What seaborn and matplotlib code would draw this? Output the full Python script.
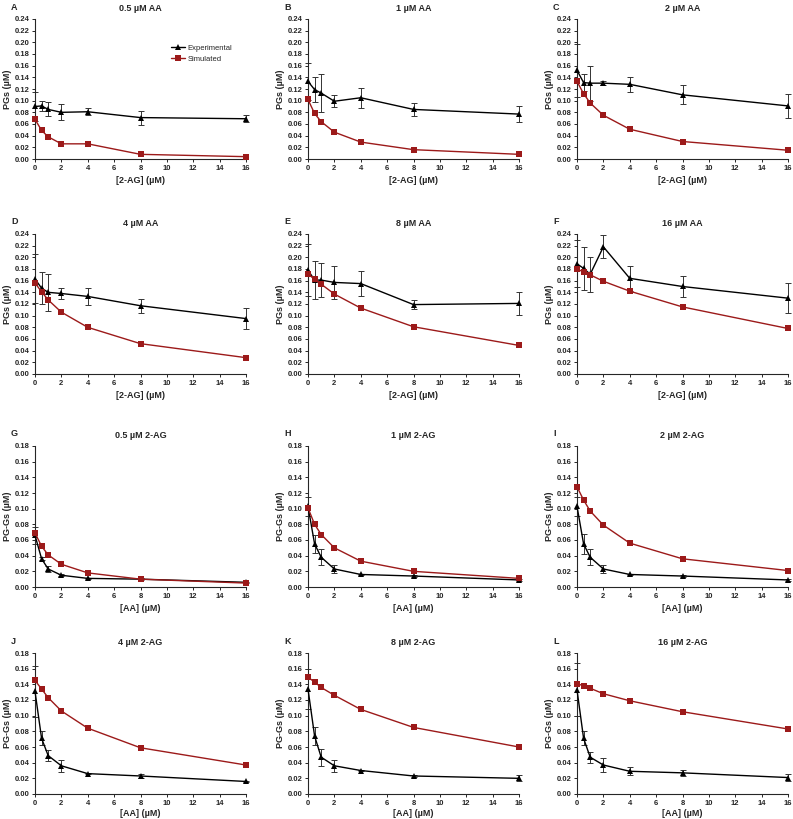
import numpy as np
import seaborn as sns
import matplotlib.pyplot as plt

# concentrations on the x axis (µM)
conc = [0, 0.5, 1, 2, 4, 8, 16]

# top two rows: PGs vs [2-AG] at fixed AA
A_exp = [0.090, 0.091, 0.085, 0.080, 0.081, 0.071, 0.069]
A_err = [0.025, 0.008, 0.012, 0.014, 0.006, 0.012, 0.006]
A_sim = [0.068, 0.049, 0.038, 0.026, 0.026, 0.008, 0.004]

B_exp = [0.133, 0.119, 0.113, 0.099, 0.105, 0.085, 0.077]
B_err = [0.032, 0.022, 0.032, 0.010, 0.017, 0.011, 0.013]
B_sim = [0.102, 0.078, 0.064, 0.046, 0.029, 0.016, 0.008]

C_exp = [0.152, 0.131, 0.130, 0.130, 0.128, 0.110, 0.091]
C_err = [0.045, 0.015, 0.030, 0.004, 0.013, 0.016, 0.020]
C_sim = [0.133, 0.112, 0.096, 0.075, 0.051, 0.030, 0.015]

D_exp = [0.163, 0.147, 0.140, 0.138, 0.133, 0.117, 0.095]
D_err = [0.042, 0.027, 0.032, 0.009, 0.015, 0.012, 0.018]
D_sim = [0.156, 0.141, 0.127, 0.106, 0.080, 0.052, 0.028]

E_exp = [0.178, 0.161, 0.161, 0.157, 0.155, 0.119, 0.121]
E_err = [0.045, 0.032, 0.029, 0.028, 0.021, 0.008, 0.020]
E_sim = [0.172, 0.162, 0.154, 0.137, 0.113, 0.081, 0.049]

F_exp = [0.189, 0.181, 0.171, 0.218, 0.164, 0.150, 0.130]
F_err = [0.040, 0.037, 0.030, 0.020, 0.021, 0.018, 0.026]
F_sim = [0.180, 0.175, 0.170, 0.159, 0.142, 0.115, 0.078]

# bottom two rows: PG-Gs vs [AA] at fixed 2-AG
G_exp = [0.066, 0.036, 0.023, 0.015, 0.011, 0.010, 0.006]
G_err = [0.011, 0.002, 0.004, 0.001, 0.001, 0.001, 0.001]
G_sim = [0.069, 0.052, 0.041, 0.029, 0.018, 0.010, 0.005]

H_exp = [0.103, 0.055, 0.038, 0.023, 0.016, 0.014, 0.009]
H_err = [0.012, 0.012, 0.010, 0.005, 0.001, 0.001, 0.001]
H_sim = [0.101, 0.080, 0.067, 0.050, 0.033, 0.020, 0.011]

I_exp = [0.103, 0.055, 0.038, 0.023, 0.016, 0.014, 0.009]
I_err = [0.012, 0.013, 0.010, 0.005, 0.001, 0.001, 0.001]
I_sim = [0.128, 0.111, 0.097, 0.079, 0.056, 0.036, 0.021]

J_exp = [0.131, 0.071, 0.049, 0.036, 0.026, 0.023, 0.016]
J_err = [0.033, 0.009, 0.007, 0.008, 0.001, 0.003, 0.001]
J_sim = [0.145, 0.134, 0.123, 0.106, 0.084, 0.059, 0.037]

K_exp = [0.134, 0.074, 0.047, 0.036, 0.030, 0.023, 0.020]
K_err = [0.025, 0.012, 0.011, 0.008, 0.001, 0.001, 0.004]
K_sim = [0.149, 0.143, 0.136, 0.126, 0.108, 0.085, 0.060]

L_exp = [0.133, 0.071, 0.047, 0.037, 0.029, 0.027, 0.021]
L_err = [0.034, 0.009, 0.007, 0.009, 0.005, 0.004, 0.005]
L_sim = [0.141, 0.138, 0.135, 0.128, 0.119, 0.105, 0.083]

letters = list('ABCDEFGHIJKL')
titles = ['0.5 µM AA', '1 µM AA', '2 µM AA', '4 µM AA', '8 µM AA', '16 µM AA',
          '0.5 µM 2-AG', '1 µM 2-AG', '2 µM 2-AG', '4 µM 2-AG', '8 µM 2-AG', '16 µM 2-AG']
exps = [A_exp, B_exp, C_exp, D_exp, E_exp, F_exp, G_exp, H_exp, I_exp, J_exp, K_exp, L_exp]
errs = [A_err, B_err, C_err, D_err, E_err, F_err, G_err, H_err, I_err, J_err, K_err, L_err]
sims = [A_sim, B_sim, C_sim, D_sim, E_sim, F_sim, G_sim, H_sim, I_sim, J_sim, K_sim, L_sim]

sns.set_style('ticks')
plt.rcParams['font.family'] = ['Liberation Sans', 'DejaVu Sans']

W, H = 793, 819
fig = plt.figure(figsize=(W / 100, H / 100), dpi=100)

red = '#9c1a1a'
col_left = [35, 308, 577]
row_top = [19, 234, 446, 653]
row_bot = [159, 374, 587, 794]
ax_w = 211

for i in range(12):
    r, c = divmod(i, 3)
    left = col_left[c]
    top, bot = row_top[r], row_bot[r]
    ax = fig.add_axes([left / W, 1 - bot / H, ax_w / W, (bot - top) / H])

    ax.errorbar(conc, exps[i], yerr=errs[i], fmt='none', ecolor='#333333',
                elinewidth=0.7, capsize=2, capthick=0.7, clip_on=False, zorder=2)
    sns.lineplot(x=conc, y=exps[i], ax=ax, color='black', marker='^', markersize=3.8,
                 markeredgewidth=0, linewidth=1, label='Experimental', clip_on=False, zorder=3)
    sns.lineplot(x=conc, y=sims[i], ax=ax, color=red, marker='s', markersize=4,
                 markeredgewidth=0, linewidth=1, label='Simulated', clip_on=False, zorder=4)

    ax.set_xlim(0, 16)
    ax.set_xticks(np.arange(0, 17, 2))
    xpad = 1.5 if r == 3 else 3
    if r < 2:
        ax.set_ylim(0, 0.24)
        ax.set_yticks(np.arange(0, 0.241, 0.02))
        ax.set_ylabel('PGs (µM)', fontsize=6.5, fontweight='bold', labelpad=2)
        ax.set_xlabel('[2-AG] (µM)', fontsize=6.5, fontweight='bold', labelpad=xpad)
    else:
        ax.set_ylim(0, 0.18)
        ax.set_yticks(np.arange(0, 0.181, 0.02))
        ax.set_ylabel('PG-Gs (µM)', fontsize=6.5, fontweight='bold', labelpad=2)
        ax.set_xlabel('[AA] (µM)', fontsize=6.5, fontweight='bold', labelpad=xpad)
    ax.yaxis.set_major_formatter(plt.FormatStrFormatter('%.2f'))
    ax.tick_params(labelsize=5.5, length=2.5, width=0.7, pad=1.5)
    for lab in ax.get_xticklabels() + ax.get_yticklabels():
        lab.set_fontweight('bold')
    sns.despine(ax=ax)
    for s in ['left', 'bottom']:
        ax.spines[s].set_linewidth(0.8)

    ax.set_title(titles[i], fontsize=6.5, fontweight='bold', pad=6)
    fig.text((left - 24) / W, 1 - (top - 12) / H, letters[i], fontsize=6.5,
             fontweight='bold', va='center', ha='left')

    if i == 0:
        ax.legend(loc='upper left', bbox_to_anchor=(0.63, 0.84), frameon=False,
                  fontsize=5.5, handlelength=1.8, handletextpad=0.4, labelspacing=0.5,
                  borderaxespad=0)
    else:
        ax.get_legend().remove()

fig.savefig('out.png', dpi=100)
